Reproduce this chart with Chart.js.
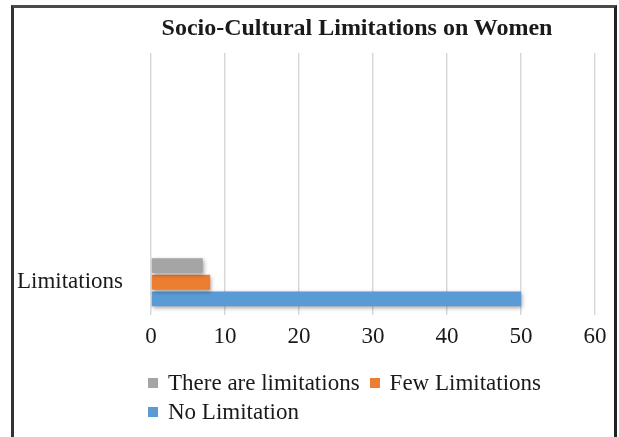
<!DOCTYPE html>
<html>
<head>
<meta charset="utf-8">
<script src="https://cdn.jsdelivr.net/npm/chart.js@4/dist/chart.umd.min.js"></script>
<style>
  html, body { margin: 0; padding: 0; background: #ffffff; }
  body { width: 619px; height: 437px; position: relative; overflow: hidden; }
  #frame {
    position: absolute; left: 11px; top: 5px; width: 600px; height: 480px;
    border-left: 3px solid #333333; border-top: 3px solid #4a4a4a; border-right: 3px solid #222222;
  }
  #chart { position: absolute; left: 0; top: 0; }
  #title {
    position: absolute; left: 100px; width: 514px; top: 13px;
    text-align: center; font: bold 24px "Liberation Serif", "Times New Roman", serif;
    line-height: 28px; color: #1a1a1a; white-space: nowrap;
  }
  #legend {
    position: absolute; left: 148px; top: 368px; width: 410px;
    font: 23px "Liberation Serif", "Times New Roman", serif; color: #1a1a1a;
  }
  .item { display: inline-flex; align-items: center; height: 28px; line-height: 28px; margin-right: 10px; white-space: nowrap; }
  .swatch { width: 10px; height: 10px; margin-right: 10px; display: inline-block; }
</style>
</head>
<body>
<div id="frame"></div>
<canvas id="chart" width="619" height="437"></canvas>
<div id="title">Socio-Cultural Limitations on Women</div>
<div id="legend"></div>
<script>
// Rows of the category axis (only the last one carries data)
const categories = ['', '', '', 'Limitations'];

// Series values, one entry per row
const thereAreLimitations = [null, null, null, 7];
const fewLimitations = [null, null, null, 8];
const noLimitation = [null, null, null, 50];

// Value axis ticks
const xTicks = [0, 10, 20, 30, 40, 50, 60];

const seriesNames = ['There are limitations', 'Few Limitations', 'No Limitation'];
const seriesColors = ['#a5a5a5', '#ed7d31', '#5b9bd5'];
const seriesValues = [thereAreLimitations, fewLimitations, noLimitation];

const fontFamily = '"Liberation Serif", "Times New Roman", serif';

// Soft drop shadow under the bars
const barShadow = {
  id: 'barShadow',
  beforeDatasetsDraw(chart) {
    const ctx = chart.ctx;
    ctx.save();
    ctx.shadowColor = 'rgba(0,0,0,0.35)';
    ctx.shadowBlur = 4;
    ctx.shadowOffsetX = 1;
    ctx.shadowOffsetY = 2;
  },
  afterDatasetsDraw(chart) {
    chart.ctx.restore();
  }
};

const chart = new Chart(document.getElementById('chart'), {
  type: 'bar',
  data: {
    labels: categories,
    datasets: seriesNames.map((name, i) => ({
      label: name,
      data: seriesValues[i],
      backgroundColor: seriesColors[i],
      borderWidth: 0,
      categoryPercentage: 0.76,
      barPercentage: 0.9
    }))
  },
  options: {
    indexAxis: 'y',
    responsive: false,
    animation: false,
    devicePixelRatio: 1,
    layout: { padding: { left: 0, right: 24, top: 53, bottom: 82 } },
    plugins: {
      legend: { display: false },
      title: { display: false },
      tooltip: { enabled: false }
    },
    scales: {
      x: {
        min: xTicks[0],
        max: xTicks[xTicks.length - 1],
        afterBuildTicks(scale) { scale.ticks = xTicks.map(v => ({ value: v })); },
        afterFit(scale) { scale.height = 40; },
        grid: { color: '#d9d9d9', lineWidth: 1.5, drawTicks: false },
        border: { display: false },
        ticks: { padding: 8, color: '#1a1a1a', font: { family: fontFamily, size: 23 } }
      },
      y: {
        afterFit(scale) { scale.width = 151; },
        grid: { display: false, drawTicks: false },
        border: { display: false },
        ticks: { padding: 28, color: '#1a1a1a', font: { family: fontFamily, size: 23 } }
      }
    }
  },
  plugins: [barShadow]
});

// Legend built from the chart's datasets
const legend = document.getElementById('legend');
chart.data.datasets.forEach(ds => {
  const item = document.createElement('span');
  item.className = 'item';
  const sw = document.createElement('span');
  sw.className = 'swatch';
  sw.style.background = ds.backgroundColor;
  const txt = document.createElement('span');
  txt.textContent = ds.label;
  item.appendChild(sw);
  item.appendChild(txt);
  legend.appendChild(item);
});
</script>
</body>
</html>
